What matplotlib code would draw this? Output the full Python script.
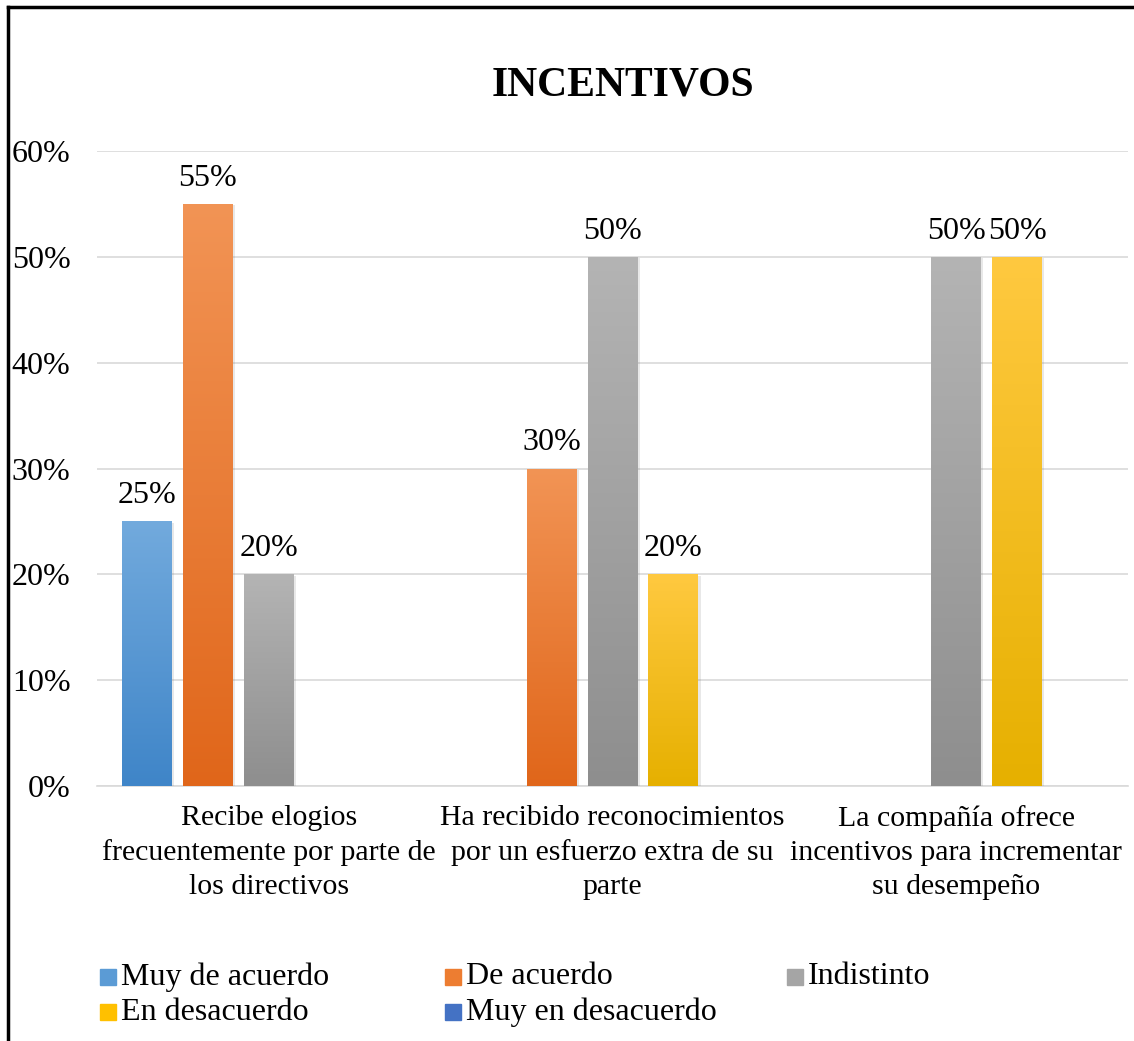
import numpy as np
import matplotlib
matplotlib.use("Agg")
import matplotlib.pyplot as plt
import matplotlib.patheffects as pe
from matplotlib.patches import Rectangle
from matplotlib.lines import Line2D
from matplotlib.colors import LinearSegmentedColormap

# donnees
categories = [
    "Recibe elogios\nfrecuentemente por parte de\nlos directivos",
    "Ha recibido reconocimientos\npor un esfuerzo extra de su\nparte",
    "La compañía ofrece\nincentivos para incrementar\nsu desempeño",
]
series = ["Muy de acuerdo", "De acuerdo", "Indistinto", "En desacuerdo", "Muy en desacuerdo"]
muy_de_acuerdo = [0.25, 0.0, 0.0]
de_acuerdo = [0.55, 0.30, 0.0]
indistinto = [0.20, 0.50, 0.50]
en_desacuerdo = [0.0, 0.20, 0.50]
muy_en_desacuerdo = [0.0, 0.0, 0.0]
values = [muy_de_acuerdo, de_acuerdo, indistinto, en_desacuerdo, muy_en_desacuerdo]

# couleurs (haut, bas) du degrade
tops = ["#72aadd", "#f29455", "#b4b4b4", "#ffc940", "#5a84cc"]
bottoms = ["#3f85c8", "#e0661a", "#8e8e8e", "#e6b000", "#3060b8"]
legend_colors = ["#5b9bd5", "#ed7d31", "#a5a5a5", "#ffc000", "#4472c4"]

plt.rcParams["font.family"] = ["Liberation Serif", "DejaVu Serif"]

fig = plt.figure(figsize=(11.34, 10.41), dpi=100)
ax = fig.add_axes([97 / 1134, 1 - 786 / 1041, (1128 - 97) / 1134, (786 - 151) / 1041])

x = np.arange(len(categories))
slot = 61 / 343.7
width = 50 / 343.7

for i, vals in enumerate(values):
    cmap = LinearSegmentedColormap.from_list("g%d" % i, [bottoms[i], tops[i]])
    bars = ax.bar(x + (i - 2) * slot, vals, width, color=legend_colors[i], zorder=3,
                  path_effects=[pe.SimplePatchShadow(offset=(1.5, -1), alpha=0.18, shadow_rgbFace="gray"), pe.Normal()])
    for b, v in zip(bars, vals):
        if v <= 0:
            continue
        grad = np.linspace(0, 1, 256).reshape(-1, 1)
        im = ax.imshow(grad, cmap=cmap, origin="lower", aspect="auto", zorder=4,
                       extent=[b.get_x(), b.get_x() + b.get_width(), 0, v])
        im.set_clip_path(b)
        ax.annotate("%d%%" % round(v * 100), (b.get_x() + b.get_width() / 2, v),
                    xytext=(0, 8), textcoords="offset points", ha="center", va="bottom",
                    fontsize=23, zorder=5)

ax.set_xlim(-0.5, 2.5)
ax.set_ylim(0, 0.6)
ax.set_yticks(np.arange(0, 0.61, 0.1))
ax.set_yticklabels(["%d%%" % round(t * 100) for t in np.arange(0, 0.61, 0.1)], fontsize=23)
ax.set_xticks(x)
ax.set_xticklabels(categories, fontsize=21.5, linespacing=1.38)
ax.tick_params(axis="y", length=0, pad=19)
ax.tick_params(axis="x", length=0, pad=14)
ax.grid(axis="y", color="#d9d9d9", linewidth=1.2, zorder=0)
for s in ["top", "right", "left"]:
    ax.spines[s].set_visible(False)
ax.spines["bottom"].set_color("#d9d9d9")
ax.spines["bottom"].set_linewidth(1.2)

fig.text(623 / 1134, 1 - 85 / 1041, "INCENTIVOS", ha="center", va="center",
         fontsize=30, fontweight="bold")

# legende faite a la main
col_x = [100, 445, 787]
row_y = [977, 1012]
for i, name in enumerate(series):
    cx = col_x[i % 3]
    cy = row_y[i // 3]
    fig.patches.append(Rectangle((cx / 1134, 1 - (cy + 8) / 1041), 16 / 1134, 16 / 1041,
                                 transform=fig.transFigure, color=legend_colors[i]))
    fig.text((cx + 21) / 1134, 1 - cy / 1041, name, ha="left", va="center", fontsize=23)

# cadre noir (gauche et haut)
fig.add_artist(Line2D([8 / 1134, 8 / 1134], [0, 1 - 7 / 1041], color="black", linewidth=2.5))
fig.add_artist(Line2D([8 / 1134, 1], [1 - 7 / 1041, 1 - 7 / 1041], color="black", linewidth=2.5))

fig.savefig("out.png", dpi=100)
